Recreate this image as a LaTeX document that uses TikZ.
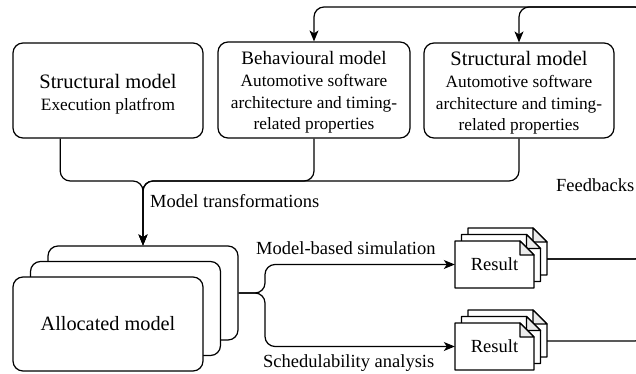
\documentclass[tikz,border=0pt]{standalone}
\usepackage{fontspec}
\setmainfont{Liberation Serif}
\usetikzlibrary{arrows.meta,calc}
\begin{document}
\begin{tikzpicture}[x=1pt,y=-1pt,
  box/.style={draw,line width=1.2pt,rounded corners=10pt,minimum width=190pt,minimum height=95pt,inner sep=0pt},
  alloc/.style={box,fill=white,minimum height=94pt},
  conn/.style={line width=1.2pt,rounded corners=10pt},
  arr/.style={-{Stealth[length=11pt,width=9pt,inset=3pt]}},
  body/.style={align=center,inner sep=0pt,font=\fontsize{17.3}{21.7}\selectfont},
  lbl/.style={font=\fontsize{18.5}{22}\selectfont,inner sep=0pt},
  restxt/.style={minimum width=79pt,minimum height=47pt,inner sep=0pt,font=\fontsize{18.5}{22}\selectfont},
  resdoc/.pic={
    \filldraw[line width=1.2pt,fill=white,line join=round] (0,0) -- (65,0) -- (79,14) -- (79,47) -- (0,47) -- cycle;
    \filldraw[line width=1.2pt,fill=gray!15,line join=round] (65,0) -- (65,14) -- (79,14) -- cycle;
  }
]
\useasboundingbox (0,0) rectangle (636,374);
\clip (0,0) rectangle (636,374);

% top boxes
\node[box] (sm1) at (108,90.5) {};
\node[body] (sm1t) at (108,94) {{\fontsize{20.5}{21.7}\selectfont Structural model}\\Execution platfrom};
\node[box,minimum width=192pt,minimum height=96pt] (beh) at (314,90) {};
\node[body] (beht) at (314,92.6) {{\fontsize{19}{21.7}\selectfont Behavioural model}\\Automotive software\\architecture and timing-\\related properties};
\node[box] (sm2) at (519,90.5) {};
\node[body] (sm2t) at (519,93) {{\fontsize{20.5}{21.7}\selectfont Structural model}\\Automotive software\\architecture and timing-\\related properties};

% allocated model stack
\node[alloc] (alloc3) at (143,293) {};
\node[alloc] (alloc2) at (125.5,308.5) {};
\node[alloc,font=\fontsize{20.3}{24}\selectfont] (alloc) at (108,324) {Allocated model};

% result stacks
\pic at (468,228) {resdoc};
\pic at (461.5,234.5) {resdoc};
\pic at (455,241) {resdoc};
\node[restxt] (res1) at (494.5,264.5) {Result};
\coordinate (res1out) at (547,259);
\pic at (468,310) {resdoc};
\pic at (461.5,316.5) {resdoc};
\pic at (455,323) {resdoc};
\node[restxt] (res2) at (494.5,346.5) {Result};
\coordinate (res2out) at (547,341);

% model transformations
\coordinate (join) at (143,181);
\draw[conn,arr] ($(sm1.south west)!0.25!(sm1.south east)$) |- (join) -- (alloc3.north);
\draw[conn,arr] (beh.south) |- (join) -- (alloc3.north);
\draw[conn,arr] (sm2.south) |- (join) -- (alloc3.north);

% analyses
\coordinate (split) at (265,293);
\draw[conn,arr] (alloc3.east) -- (split) |- (res1.west);
\draw[conn,arr] (alloc3.east) -- (split) |- (res2.west);

% feedbacks
\coordinate (fbR) at (645,7);
\draw[conn,arr] (res1out) -| (fbR) -| (beh.north);
\draw[conn,arr] (res1out) -| (fbR) -| (sm2.north);
\draw[conn] (res2out) -| (fbR);

% labels
\node[lbl,anchor=base west] (lmt) at (150,207) {Model transformations};
\node[lbl,anchor=base west] (lmbs) at (256,254) {Model-based simulation};
\node[lbl,anchor=base west] (lsa) at (263,367) {Schedulability analysis};
\node[lbl,anchor=base west] (lfb) at (556,191) {Feedbacks};
\end{tikzpicture}
\end{document}
